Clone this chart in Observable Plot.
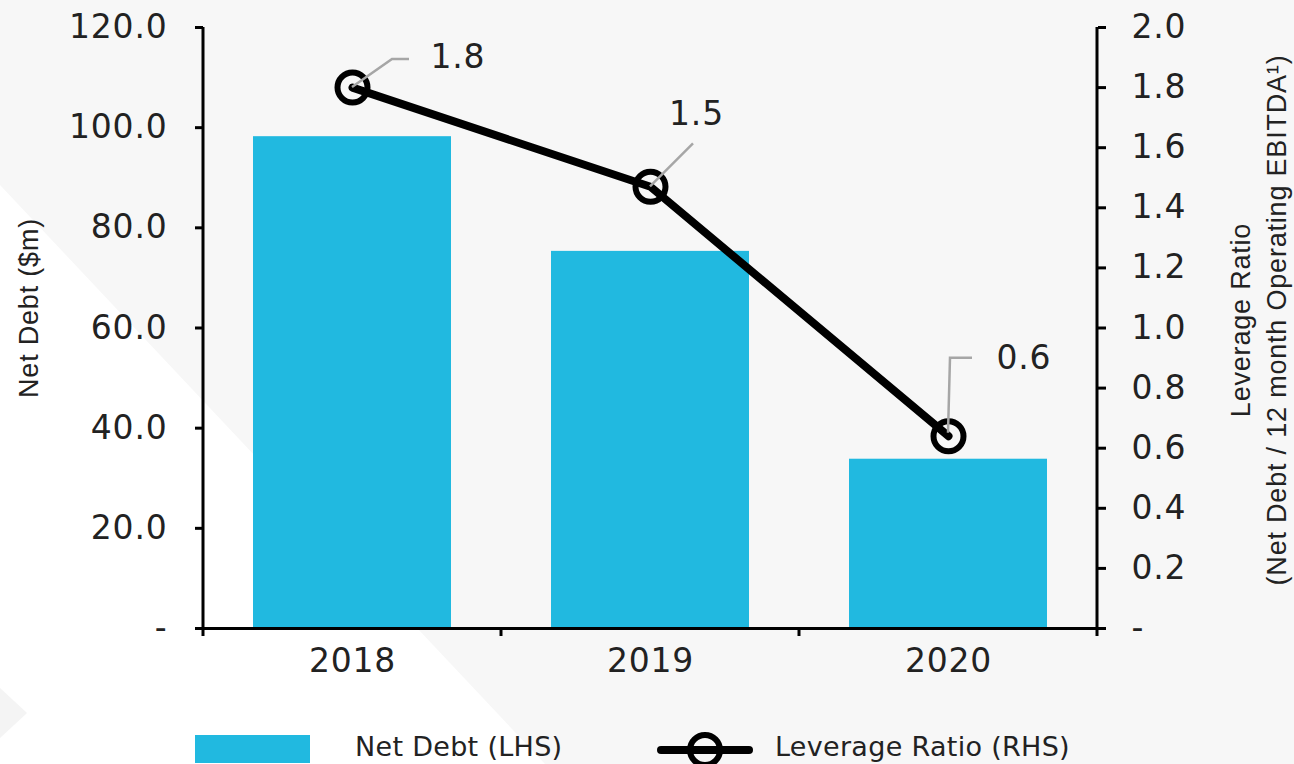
<!DOCTYPE html>
<html>
<head>
<meta charset="utf-8">
<script src="https://cdn.jsdelivr.net/npm/d3@7"></script>
<script src="https://cdn.jsdelivr.net/npm/@observablehq/plot@0.6"></script>
<style>
  html, body { margin: 0; padding: 0; background: #f7f7f7; }
  #wrap { position: relative; width: 1294px; height: 764px; overflow: hidden; }
  #bg { position: absolute; left: 0; top: 0; }
  #chart { position: absolute; left: 0; top: 0; }
  .legend-item { position: absolute; font-family: "DejaVu Sans", sans-serif; font-size: 27px; letter-spacing: 0.3px; color: #222; line-height: 30px; }
</style>
</head>
<body>
<div id="wrap">
  <svg id="bg" width="1294" height="764">
    <polygon points="0,185 545,764 0,764" fill="#ffffff"/>
    <polygon points="0,688 27,713 0,738" fill="#f4f4f4"/>
  </svg>
  <div id="chart"></div>
  <div class="legend-item" style="left:195px; top:735px; width:115px; height:28px; background:#21b9e0;"></div>
  <div class="legend-item" style="left:355px; top:732px;">Net Debt (LHS)</div>
  <svg class="legend-item" style="left:655px; top:728px;" width="100" height="40">
    <line x1="6" y1="22" x2="94" y2="22" stroke="#000" stroke-width="8" stroke-linecap="round"/>
    <circle cx="50" cy="22" r="15" fill="none" stroke="#000" stroke-width="6"/>
  </svg>
  <div class="legend-item" style="left:775px; top:732px;">Leverage Ratio (RHS)</div>
</div>
<script>
// ---- data ----
const years = ["2018", "2019", "2020"];
const netDebt = [98.2, 75.3, 33.8];            // $m (LHS)
const leverage = [1.80, 1.47, 0.64];          // x (RHS)
const leverageLabels = ["1.8", "1.5", "0.6"];
const leftTicks = [0, 20, 40, 60, 80, 100, 120];
const rightTicks = [0, 0.2, 0.4, 0.6, 0.8, 1.0, 1.2, 1.4, 1.6, 1.8, 2.0];
const leftMax = 120;
const rightMax = 2.0;
const leftTitle = "Net Debt ($m)";
const rightTitle = "Leverage Ratio\n(Net Debt / 12 month Operating EBITDA¹)";

// ---- build ----
const K = leftMax / rightMax; // map RHS values onto LHS scale
const rows = years.map((y, i) => ({year: y, debt: netDebt[i], ratio: leverage[i], label: leverageLabels[i]}));

// label / leader offsets (styling, px)
const labelStyle = [
  {dx: 78, dy: -30, anchor: "start", path: [[0, 0], [40, -28], [57, -28]]},
  {dx: 46, dy: -72, anchor: "middle", path: [[0, 0], [43, -43]]},
  {dx: 48, dy: -78, anchor: "start", path: [[0, -3], [2, -78], [24, -78]]}
];

const tickFont = "'DejaVu Sans', sans-serif";
const titleFont = "'Liberation Sans', Arial, sans-serif";

const plot = Plot.plot({
  width: 1294,
  height: 690,
  marginLeft: 203,
  marginRight: 197,
  marginTop: 27,
  marginBottom: 62,
  style: {background: "transparent", fontFamily: tickFont, fontSize: "33px", color: "#222", overflow: "visible", letterSpacing: "0.8px"},
  x: {domain: years, paddingInner: 0.335, paddingOuter: 0.1675, align: 0.5},
  y: {domain: [0, leftMax]},
  marks: [
    Plot.barY(rows, {x: "year", y: "debt", fill: "#21b9e0"}),
    Plot.ruleY([0], {stroke: "#000", strokeWidth: 3}),
    Plot.axisY(leftTicks, {anchor: "left", tickSize: 8, tickPadding: 28, strokeWidth: 3, stroke: "#000",
      tickFormat: d => d === 0 ? "-" : d.toFixed(1), label: null, fill: "#222"}),
    Plot.axisY(rightTicks.map(t => t * K), {anchor: "right", tickSize: 8, tickPadding: 26, strokeWidth: 3, stroke: "#000",
      tickFormat: d => d === 0 ? "-" : (d / K).toFixed(1), label: null, fill: "#222"}),
    Plot.axisX({tickSize: 0, tickPadding: 20, label: null, fill: "#222"}),
    Plot.text([leftTitle], {frameAnchor: "left", dx: -174, dy: -20, rotate: -90, ariaLabel: "title-left",
      fontFamily: titleFont, fontSize: 27, fill: "#222", textAnchor: "middle"}),
    Plot.text([rightTitle], {frameAnchor: "right", dx: 159, dy: -8, rotate: -90, ariaLabel: "title-right",
      fontFamily: titleFont, fontSize: 27, fill: "#222", textAnchor: "middle", lineAnchor: "middle", lineHeight: 1.32}),
    Plot.line(rows, {x: "year", y: d => d.ratio * K, stroke: "#000", strokeWidth: 8}),
    Plot.dot(rows, {x: "year", y: d => d.ratio * K, r: 15, stroke: "#000", strokeWidth: 6, fill: "none"}),
    ...rows.map((r, i) => Plot.text([r], {x: "year", y: d => d.ratio * K, text: "label",
      dx: labelStyle[i].dx, dy: labelStyle[i].dy, textAnchor: labelStyle[i].anchor, fontSize: 33, fill: "#222"}))
  ]
});

// leader lines and axis lines computed from the plot's scales
const sx = plot.scale("x");
const sy = plot.scale("y");
const svg = d3.select(plot.tagName === "svg" ? plot : plot.querySelector("svg"));
svg.selectAll("g[aria-label='title-left'] text").style("letter-spacing", "1.6px");
svg.selectAll("g[aria-label='title-right'] text").style("letter-spacing", "1.0px");
const center = v => sx.apply(v) + sx.bandwidth / 2;
const step = sx.step;
const y0 = sy.apply(0);
const yTop = sy.apply(leftMax);
const g = svg.append("g");
const edges = [center(years[0]) - step / 2, ...years.map(y => center(y) + step / 2)];
edges.forEach((ex, i) => {
  const isEnd = i === 0 || i === edges.length - 1;
  g.append("line").attr("x1", ex).attr("x2", ex)
    .attr("y1", isEnd ? yTop : y0).attr("y2", y0 + 8)
    .attr("stroke", "#000").attr("stroke-width", 3);
});
const lg = svg.append("g");
rows.forEach((r, i) => {
  const cx = center(r.year), cy = sy.apply(r.ratio * K);
  lg.append("path")
    .attr("d", d3.line()(labelStyle[i].path.map(([a, b]) => [cx + a, cy + b])))
    .attr("fill", "none").attr("stroke", "#a6a6a6").attr("stroke-width", 2.5);
});

document.getElementById("chart").appendChild(plot);
</script>
</body>
</html>
